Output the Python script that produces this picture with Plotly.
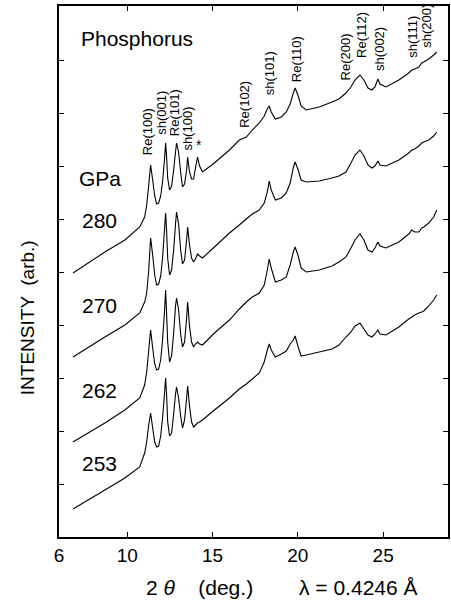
import plotly.graph_objects as go

# 2-theta grid (deg.)
two_theta = [6.82, 8.69, 9.86, 10.73, 11.02, 11.14, 11.26, 11.37, 11.49, 11.61, 11.72, 11.84, 11.96, 12.07,
             12.19, 12.25, 12.31, 12.37, 12.48, 12.60, 12.72, 12.83, 12.89, 13.01, 13.13, 13.24, 13.36, 13.48,
             13.54, 13.65, 13.77, 13.89, 14.00, 14.12, 14.24, 14.41, 15.11, 15.99, 16.57, 16.98, 17.33, 17.74,
             18.03, 18.21, 18.32, 18.44, 18.68, 19.03, 19.32, 19.55, 19.73, 19.84, 20.02, 20.19, 20.49, 21.25,
             22.00, 22.41, 22.82, 23.11, 23.35, 23.64, 23.87, 24.11, 24.34, 24.52, 24.69, 24.81, 25.16, 25.92,
             26.50, 26.68, 26.85, 27.09, 27.26, 27.38, 27.67, 27.96, 28.14]

# intensities (arb.), stacked patterns
i_280 = [264, 285, 297, 310, 320, 332, 352, 372, 357, 341, 333, 334, 341, 355, 379, 394, 379, 359, 347, 351,
         367, 385, 394, 385, 365, 350, 353, 367, 380, 365, 358, 358, 369, 380, 371, 365, 374, 387, 397, 400,
         407, 414, 421, 428, 431, 425, 418, 420, 425, 433, 444, 449, 441, 431, 427, 430, 435, 438, 444, 450,
         457, 462, 457, 449, 447, 450, 458, 453, 450, 457, 464, 467, 468, 470, 474, 475, 478, 482, 485]
i_270 = [180, 200, 212, 224, 235, 244, 267, 299, 282, 262, 252, 253, 261, 279, 309, 324, 305, 279, 262, 267,
         287, 313, 325, 313, 287, 273, 277, 297, 310, 292, 279, 275, 278, 283, 281, 279, 290, 304, 312, 318,
         323, 327, 334, 345, 356, 347, 337, 339, 344, 354, 369, 375, 367, 357, 355, 356, 359, 361, 365, 374,
         382, 387, 381, 372, 369, 371, 376, 372, 371, 377, 384, 387, 388, 391, 394, 395, 397, 401, 405]
i_262 = [95, 114, 127, 139, 152, 165, 187, 207, 189, 173, 167, 168, 177, 197, 227, 247, 222, 195, 175, 181,
         204, 231, 239, 227, 203, 190, 195, 219, 235, 211, 195, 190, 193, 195, 193, 192, 204, 217, 228, 235,
         240, 244, 252, 267, 278, 269, 255, 257, 260, 272, 285, 290, 281, 269, 265, 267, 271, 275, 280, 289,
         297, 303, 297, 287, 285, 289, 295, 291, 289, 295, 303, 307, 305, 305, 309, 310, 314, 320, 327]
i_253 = [28, 47, 59, 70, 84, 95, 112, 124, 109, 95, 90, 91, 101, 119, 145, 159, 141, 115, 101, 104,
         123, 143, 150, 139, 121, 109, 117, 139, 151, 131, 115, 110, 112, 114, 115, 117, 127, 139, 148, 153,
         158, 164, 175, 187, 193, 187, 180, 183, 186, 193, 197, 201, 190, 181, 182, 185, 188, 192, 200, 205,
         211, 214, 208, 202, 200, 203, 207, 203, 202, 210, 218, 220, 222, 224, 225, 226, 231, 237, 242]

series = [i_280, i_270, i_262, i_253]

pressures = ["280", "270", "262", "253"]
pressure_label_y = [317, 232, 147, 74]

peak_names = ["Re(100)", "sh(001)", "Re(101)", "sh(100)", "*", "Re(102)", "sh(101)", "Re(110)",
              "Re(200)", "Re(112)", "sh(002)", "sh(111)", "sh(200)"]
peak_label_x = [11.20, 11.96, 12.78, 13.48, 14.18, 16.86, 18.32, 19.90, 22.82, 23.70, 24.75, 26.68, 27.50]
peak_label_y = [380, 400, 399, 384, 382, 407, 440, 453, 455, 477, 464, 477, 487]

x_ticks = [6, 10, 15, 20, 25]

FONT = "Liberation Sans, Arial, Helvetica, sans-serif"

fig = go.Figure()
for ys in series:
    fig.add_trace(go.Scatter(x=two_theta, y=ys, mode="lines",
                             line=dict(color="black", width=1.1, simplify=False),
                             showlegend=False, hoverinfo="skip"))

ann = []
for name, x, y in zip(peak_names, peak_label_x, peak_label_y):
    if name == "*":
        ann.append(dict(x=x, y=y, text="*", showarrow=False, xanchor="center", yanchor="bottom",
                        font=dict(size=14, color="black", family=FONT)))
    else:
        ann.append(dict(x=x, y=y, text=name, showarrow=False, textangle=-90, xanchor="center",
                        yanchor="bottom", font=dict(size=13, color="black", family=FONT)))

for p, y in zip(pressures, pressure_label_y):
    ann.append(dict(x=8.39, y=y, text=p, showarrow=False, xanchor="center", yanchor="middle",
                    font=dict(size=21, color="black", family=FONT)))
ann.append(dict(x=8.39, y=359, text="GPa", showarrow=False, xanchor="center", yanchor="middle",
                font=dict(size=21, color="black", family=FONT)))
ann.append(dict(x=7.2, y=499, text="Phosphorus", showarrow=False, xanchor="left", yanchor="middle",
                font=dict(size=21, color="black", family=FONT)))

# axis titles
ann.append(dict(xref="paper", yref="paper", x=(200 - 59) / 391, y=-(588 - 537) / 531,
                text="2 <i>θ</i>    (deg.)", showarrow=False, xanchor="center", yanchor="middle",
                font=dict(size=21, color="black", family=FONT)))
ann.append(dict(xref="paper", yref="paper", x=(360 - 59) / 391, y=-(588 - 537) / 531,
                text="λ = 0.4246 Å", showarrow=False, xanchor="center", yanchor="middle",
                font=dict(size=21, color="black", family=FONT)))
ann.append(dict(xref="paper", yref="paper", x=-(59 - 27) / 391, y=(537 - 318) / 531,
                text="INTENSITY  (arb.)", showarrow=False, textangle=-90, xanchor="center",
                yanchor="middle", font=dict(size=19, color="black", family=FONT)))

fig.update_layout(
    width=451, height=605,
    margin=dict(l=59, r=1, t=6, b=68),
    paper_bgcolor="white", plot_bgcolor="white",
    annotations=ann,
    font=dict(family=FONT, color="black"),
)
fig.update_xaxes(range=[6, 28.8], tickmode="array", tickvals=x_ticks, ticks="inside", ticklen=5,
                 tickwidth=1, tickcolor="black", showline=True, linecolor="black", linewidth=1.5,
                 mirror="ticks", showgrid=False, zeroline=False,
                 tickfont=dict(size=19, family=FONT, color="black"))
fig.update_yaxes(range=[0, 531], tickmode="linear", tick0=0, dtick=53, ticks="inside", ticklen=5,
                 tickwidth=1, tickcolor="black", showline=True, linecolor="black", linewidth=1.5,
                 mirror="ticks", showgrid=False, zeroline=False, showticklabels=False)

fig.write_html("out.html", config={"displayModeBar": False},
               post_script="document.body.style.margin='0';document.body.style.padding='0';")
